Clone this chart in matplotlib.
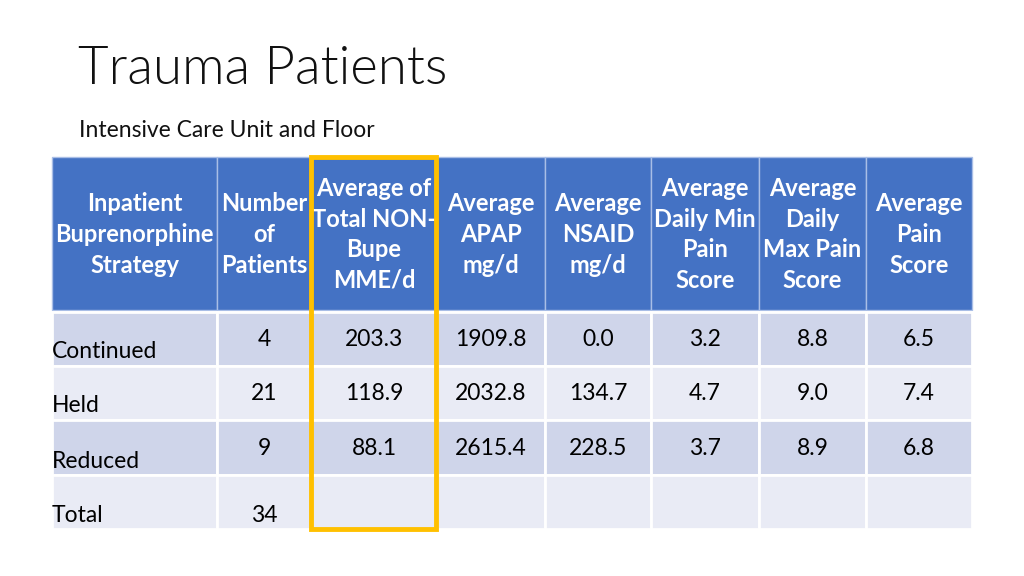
import matplotlib
matplotlib.use("Agg")
import matplotlib.pyplot as plt
from matplotlib.patches import Rectangle

plt.rcParams['font.family'] = ['Lato', 'DejaVu Sans']

title = "Trauma Patients"
subtitle = "Intensive Care Unit and Floor"

headers = [
    "Inpatient\nBuprenorphine\nStrategy",
    "Number\nof\nPatients",
    "Average of\nTotal NON-\nBupe\nMME/d",
    "Average\nAPAP\nmg/d",
    "Average\nNSAID\nmg/d",
    "Average\nDaily Min\nPain\nScore",
    "Average\nDaily\nMax Pain\nScore",
    "Average\nPain\nScore",
]
strategies = ["Continued", "Held", "Reduced", "Total"]
n_patients = ["4", "21", "9", "34"]
mme = ["203.3", "118.9", "88.1", ""]
apap = ["1909.8", "2032.8", "2615.4", ""]
nsaid = ["0.0", "134.7", "228.5", ""]
min_pain = ["3.2", "4.7", "3.7", ""]
max_pain = ["8.8", "9.0", "8.9", ""]
avg_pain = ["6.5", "7.4", "6.8", ""]

columns = [n_patients, mme, apap, nsaid, min_pain, max_pain, avg_pain]

# layout (pixels)
col_edges = [52, 217, 311, 437, 545, 651, 759, 866, 972]
head_top, head_bot = 157, 310
row_edges = [312, 366, 420, 475, 529]

HEAD = "#4472C4"
ROW_A = "#CFD5EA"
ROW_B = "#E9EBF5"

fig = plt.figure(figsize=(10.24, 5.76), dpi=100)
ax = fig.add_axes([0, 0, 1, 1])
ax.set_xlim(0, 1024)
ax.set_ylim(576, 0)
ax.axis("off")

ax.text(78, 84, title, fontsize=38, fontweight=300, color="#111111",
        ha="left", va="baseline")
ax.text(79, 137, subtitle, fontsize=16.5, color="#111111",
        ha="left", va="baseline")

# header
for i in range(len(headers)):
    x0, x1 = col_edges[i], col_edges[i + 1]
    ax.add_patch(Rectangle((x0, head_top), x1 - x0, head_bot - head_top,
                           facecolor=HEAD, edgecolor="#A9BEE6", lw=1.0))
    ax.text((x0 + x1) / 2, (head_top + head_bot) / 2 + 1, headers[i],
            color="white", fontsize=17, fontweight="bold", ha="center",
            va="center", linespacing=1.4)

# body
for r in range(len(strategies)):
    y0, y1 = row_edges[r], row_edges[r + 1]
    fc = ROW_A if r % 2 == 0 else ROW_B
    for i in range(len(headers)):
        x0, x1 = col_edges[i], col_edges[i + 1]
        ax.add_patch(Rectangle((x0, y0), x1 - x0, y1 - y0,
                               facecolor=fc, edgecolor="white", lw=2.0))
    label_y = y1 - 14
    ax.text(col_edges[0], label_y, strategies[r], fontsize=16.5,
            color="black", ha="left", va="center")
    last = r == len(strategies) - 1
    for c, col in enumerate(columns):
        x0, x1 = col_edges[c + 1], col_edges[c + 2]
        vy = label_y if last else (y0 + y1) / 2 + 1
        ax.text((x0 + x1) / 2, vy, col[r], fontsize=16.5, color="black",
                ha="center", va="center")

# highlight box
ax.add_patch(Rectangle((col_edges[2], 157), col_edges[3] - col_edges[2] - 1,
                       529 - 157, facecolor="none", edgecolor="#FFC000",
                       lw=3.5, zorder=5))

fig.savefig("out.png", dpi=100)
